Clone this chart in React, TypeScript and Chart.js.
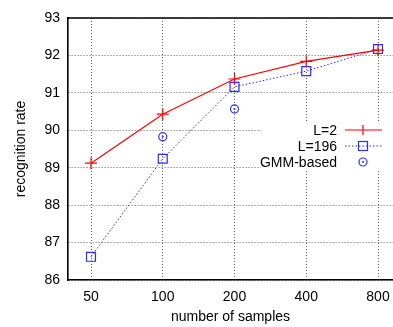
import React, { useEffect, useRef } from 'react';
import { Chart, registerables } from 'chart.js';
Chart.register(...registerables);

const categories = ['50', '100', '200', '400', '800'];
const l2Values = [89.12, 90.43, 91.37, 91.84, 92.14];
const l196Values = [86.62, 89.24, 91.16, 91.58, 92.17];
const gmmValues: (number | null)[] = [null, 89.83, 90.57, null, null];
const seriesNames = ['L=2', 'L=196', 'GMM-based'];
const yMin = 86;
const yMax = 93;

const RED = '#ff0000';
const BLUE = '#2b2bff';
const GRID = '#666';
const FONT = '"Liberation Sans", Arial, Helvetica, sans-serif';

export default function App() {
  const ref = useRef<HTMLCanvasElement>(null);
  useEffect(() => {
    const toPts = (arr: (number | null)[]) =>
      arr.map((v, i) => ({ x: i, y: v }));

    const topBorder = {
      id: 'topBorder',
      afterDatasetsDraw(chart: any) {
        const { ctx, chartArea } = chart;
        ctx.save();
        ctx.strokeStyle = '#000';
        ctx.lineWidth = 1.6;
        ctx.beginPath();
        ctx.moveTo(chartArea.left, chartArea.top);
        ctx.lineTo(chartArea.right, chartArea.top);
        ctx.stroke();
        ctx.restore();
      },
    };

    const centerDots = {
      id: 'centerDots',
      afterDatasetsDraw(chart: any) {
        const { ctx } = chart;
        const meta = chart.getDatasetMeta(2);
        ctx.save();
        ctx.fillStyle = BLUE;
        meta.data.forEach((el: any, i: number) => {
          if (gmmValues[i] == null) return;
          ctx.beginPath();
          ctx.arc(el.x, el.y, 1, 0, Math.PI * 2);
          ctx.fill();
        });
        ctx.restore();
      },
    };

    const legendPlugin = {
      id: 'customLegend',
      afterDatasetsDraw(chart: any) {
        const { ctx } = chart;
        ctx.save();
        ctx.fillStyle = '#fff';
        ctx.fillRect(261, 123, 132, 46);
        ctx.font = `14px ${FONT}`;
        ctx.textAlign = 'right';
        ctx.textBaseline = 'middle';
        const rows = [130, 146, 162];
        const x0 = 345, x1 = 382, xm = 363;
        ctx.fillStyle = '#000';
        ctx.fillText(seriesNames[0], 337, rows[0] + 1);
        ctx.strokeStyle = RED;
        ctx.lineWidth = 1.2;
        ctx.setLineDash([]);
        ctx.beginPath();
        ctx.moveTo(x0, rows[0]);
        ctx.lineTo(x1, rows[0]);
        ctx.moveTo(xm, rows[0] - 5);
        ctx.lineTo(xm, rows[0] + 5);
        ctx.stroke();
        ctx.fillText(seriesNames[1], 337, rows[1] + 1);
        ctx.strokeStyle = BLUE;
        ctx.lineWidth = 1;
        ctx.setLineDash([1.5, 2]);
        ctx.beginPath();
        ctx.moveTo(x0, rows[1]);
        ctx.lineTo(x1, rows[1]);
        ctx.stroke();
        ctx.setLineDash([]);
        ctx.lineWidth = 1.2;
        ctx.strokeRect(xm - 4.5, rows[1] - 4.5, 9, 9);
        ctx.fillText(seriesNames[2], 337, rows[2] + 1);
        ctx.beginPath();
        ctx.arc(xm, rows[2], 4, 0, Math.PI * 2);
        ctx.stroke();
        ctx.fillStyle = BLUE;
        ctx.beginPath();
        ctx.arc(xm, rows[2], 1, 0, Math.PI * 2);
        ctx.fill();
        ctx.restore();
      },
    };

    const chart = new Chart(ref.current!, {
      type: 'scatter',
      data: {
        datasets: [
          {
            label: seriesNames[0],
            data: toPts(l2Values),
            showLine: true,
            borderColor: RED,
            backgroundColor: RED,
            borderWidth: 1.2,
            pointStyle: 'cross',
            pointRadius: 6,
            pointBorderWidth: 1.2,
            pointBorderColor: RED,
          },
          {
            label: seriesNames[1],
            data: toPts(l196Values),
            showLine: true,
            borderColor: BLUE,
            backgroundColor: 'rgba(0,0,0,0)',
            borderWidth: 1,
            borderDash: [1.5, 2],
            pointStyle: 'rect',
            pointRadius: 6.3,
            pointBorderWidth: 1.2,
            pointBorderColor: BLUE,
          },
          {
            label: seriesNames[2],
            data: toPts(gmmValues) as any,
            showLine: false,
            pointStyle: 'circle',
            pointRadius: 4,
            pointBorderWidth: 1.2,
            pointBorderColor: BLUE,
            pointBackgroundColor: 'rgba(0,0,0,0)',
          },
        ],
      },
      options: {
        animation: false,
        responsive: false,
        layout: { autoPadding: false, padding: { top: 18, right: 0, left: 0, bottom: 0 } },
        plugins: { legend: { display: false }, tooltip: { enabled: false } },
        scales: {
          x: {
            type: 'linear',
            min: -0.3206,
            max: 4.209,
            afterFit(scale: any) {
              scale.height = 47;
              scale.paddingLeft = 0;
              scale.paddingRight = 0;
            },
            afterBuildTicks(scale: any) {
              scale.ticks = categories.map((_, i) => ({ value: i }));
            },
            ticks: {
              callback: (v: any) => categories[v as number] ?? '',
              color: '#000',
              font: { family: FONT, size: 14 },
              padding: 9,
              maxRotation: 0,
              autoSkip: false,
            },
            grid: {
              color: GRID,
              lineWidth: 1,
              drawTicks: false,
            },
            border: { display: true, color: '#000', width: 1.6, dash: [1, 2] as any },
            title: {
              display: true,
              text: 'number of samples',
              color: '#000',
              font: { family: FONT, size: 14 },
              padding: { top: 0, bottom: 1 },
            },
          },
          y: {
            min: yMin,
            max: yMax,
            afterFit(scale: any) {
              scale.width = 68;
              scale.paddingTop = 0;
              scale.paddingBottom = 0;
            },
            ticks: {
              stepSize: 1,
              color: '#000',
              font: { family: FONT, size: 14 },
              padding: 8,
            },
            grid: {
              color: GRID,
              lineWidth: 1,
              drawTicks: false,
            },
            border: { display: true, color: '#000', width: 1.6, dash: [1, 2] as any },
            title: {
              display: true,
              text: 'recognition rate',
              color: '#000',
              font: { family: FONT, size: 14 },
              padding: { top: 13, bottom: 0 },
            },
          },
        },
      },
      plugins: [legendPlugin, topBorder, centerDots],
    });
    return () => chart.destroy();
  }, []);

  return (
    <div style={{ position: 'fixed', left: 0, top: 0, width: 393, height: 327, background: '#fff' }}>
      <canvas ref={ref} width={393} height={327} />
    </div>
  );
}
